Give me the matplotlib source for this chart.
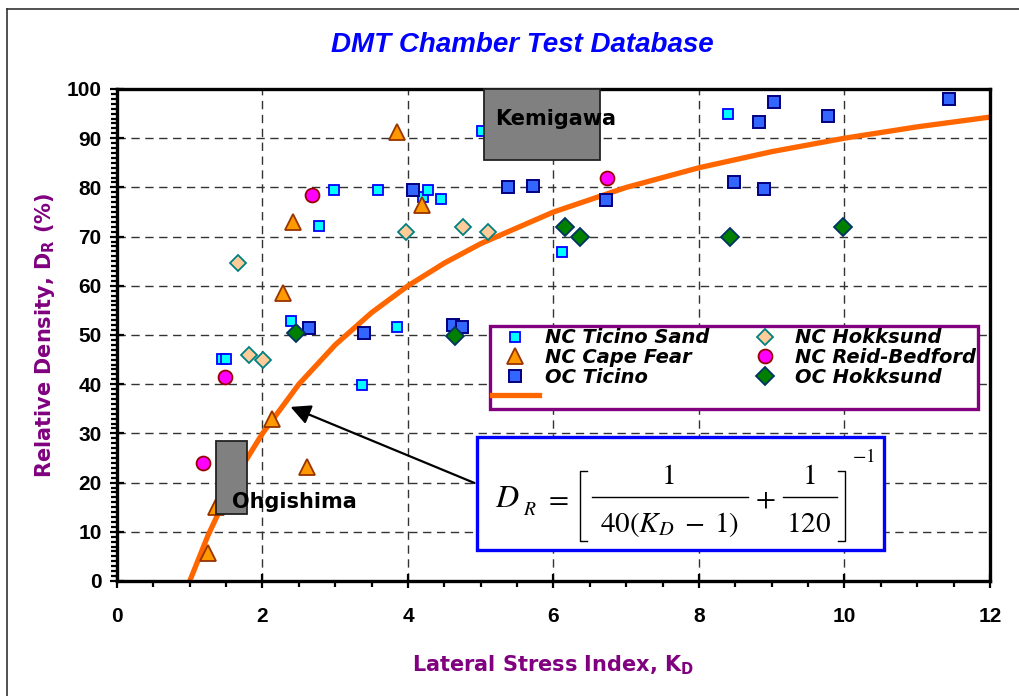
import matplotlib
matplotlib.use("Agg")
import matplotlib.pyplot as plt
from matplotlib.patches import Rectangle
from matplotlib.lines import Line2D
from matplotlib.ticker import MultipleLocator

# ----------------------------
# Data
# ----------------------------
ts_x = [1.45, 1.50, 2.39, 2.78, 2.98, 3.59, 3.37, 3.85, 4.20, 4.27, 4.45, 5.02, 6.12, 8.40]
ts_y = [45.1, 45.1, 52.8, 72.2, 79.5, 79.5, 39.8, 51.6, 78.0, 79.5, 77.6, 91.5, 66.9, 95.0]

oct_x = [2.64, 3.40, 4.07, 4.62, 4.74, 5.37, 5.72, 6.72, 8.48, 8.82, 8.89, 9.03, 9.77, 11.44]
oct_y = [51.4, 50.5, 79.5, 52.0, 51.6, 80.0, 80.3, 77.4, 81.1, 93.3, 79.7, 97.4, 94.5, 98.0]

cf_x = [1.25, 1.36, 2.13, 2.28, 2.42, 2.61, 3.85, 4.19]
cf_y = [5.7, 15.0, 32.9, 58.5, 73.0, 23.2, 91.3, 76.4]

hk_x = [1.66, 1.81, 2.01, 3.97, 4.76, 5.10]
hk_y = [64.6, 45.9, 44.9, 70.9, 72.0, 70.9]

rb_x = [1.18, 1.48, 2.68, 6.73]
rb_y = [24.0, 41.5, 78.5, 81.9]

ohk_x = [2.46, 4.65, 6.16, 6.36, 8.43, 9.98]
ohk_y = [50.4, 49.8, 72.0, 70.0, 70.0, 72.0]

# correlation curve D_R vs K_D
curve_kd = [1.0, 1.25, 1.5, 1.75, 2.0, 2.5, 3.0, 3.5, 4.0, 4.5, 5.0, 6.0, 7.0, 8.0, 9.0, 10.0, 11.0, 12.0]
curve_dr = [0.0, 9.23, 17.14, 24.0, 30.0, 40.0, 48.0, 54.55, 60.0, 64.62, 68.57, 75.0, 80.0, 84.0,
            87.27, 90.0, 92.31, 94.29]

x_ticks = [0, 2, 4, 6, 8, 10, 12]
y_ticks = [0, 10, 20, 30, 40, 50, 60, 70, 80, 90, 100]

PURPLE = "#800080"
W, H = 1020, 696

# ----------------------------
# Figure / axes
# ----------------------------
fig = plt.figure(figsize=(10.2, 6.96), dpi=100)
ax = fig.add_axes([117 / W, 1 - 581 / H, 873 / W, 492 / H])

ax.set_xlim(0, 12)
ax.set_ylim(0, 100)
ax.set_xticks(x_ticks)
ax.set_yticks(y_ticks)
ax.xaxis.set_minor_locator(MultipleLocator(0.5))
ax.yaxis.set_minor_locator(MultipleLocator(1))
ax.tick_params(which="major", direction="inout", length=10, width=1.6, pad=14,
               labelsize=15)
ax.tick_params(axis="y", which="major", pad=6)
ax.tick_params(which="minor", direction="out", length=4, width=1.6)
for lab in ax.get_xticklabels() + ax.get_yticklabels():
    lab.set_fontfamily("Liberation Sans")
    lab.set_fontweight("bold")
for sp in ax.spines.values():
    sp.set_linewidth(2.4)

ax.grid(True, which="major", color="#333333", linestyle=(0, (6, 4)), linewidth=1.0)
ax.set_axisbelow(True)

# ----------------------------
# Curve and points
# ----------------------------
line, = ax.plot(curve_kd, curve_dr, color="#FF6600", lw=3.8, zorder=2)

h_ts, = ax.plot(ts_x, ts_y, "s", ms=7, mfc="#00FFFF", mec="#0000FF", mew=1.3, ls="none", zorder=3)
h_oct, = ax.plot(oct_x, oct_y, "s", ms=9, mfc="#3366FF", mec="#000080", mew=1.4, ls="none", zorder=3)
h_cf, = ax.plot(cf_x, cf_y, "^", ms=12, mfc="#FF9900", mec="#993300", mew=1.3, ls="none", zorder=3)
h_hk, = ax.plot(hk_x, hk_y, "D", ms=8.5, mfc="#FFCC99", mec="#008080", mew=1.3, ls="none", zorder=3)
h_rb, = ax.plot(rb_x, rb_y, "o", ms=10, mfc="#FF00FF", mec="#990000", mew=1.3, ls="none", zorder=3)
h_ohk, = ax.plot(ohk_x, ohk_y, "D", ms=9, mfc="#008000", mec="#003366", mew=1.3, ls="none", zorder=3)

# ----------------------------
# Site boxes
# ----------------------------
ax.add_patch(Rectangle((5.04, 85.6), 1.60, 14.4, facecolor="#808080", edgecolor="#222222",
                       lw=1.3, zorder=4, clip_on=False))
ax.text(5.2, 94.0, "Kemigawa", fontsize=15, fontweight="bold", color="black",
        va="center", ha="left", zorder=5)

ax.add_patch(Rectangle((1.36, 13.6), 0.43, 14.9, facecolor="#808080", edgecolor="#222222",
                       lw=1.3, zorder=4))
ax.text(1.58, 16.0, "Ohgishima", fontsize=15, fontweight="bold", color="black",
        va="center", ha="left", zorder=5)

# ----------------------------
# Equation box + arrow
# ----------------------------
ax.add_patch(Rectangle((4.95, 6.3), 5.59, 23.0, facecolor="white", edgecolor="#0000FF",
                       lw=2.4, zorder=6))

ax.annotate("", xy=(2.35, 35.6), xytext=(4.95, 19.7),
            arrowprops=dict(arrowstyle="-|>", color="black", lw=1.6, mutation_scale=30),
            zorder=5)


# equation pieces, placed in image pixels (y measured from top)
def eq_text(px, py, s, size=21, ha="left"):
    fig.text(px / W, 1 - py / H, s, math_fontfamily="stix", fontsize=size,
             ha=ha, va="baseline", zorder=10)


def eq_line(xs, ys):
    fig.add_artist(Line2D([x / W for x in xs], [1 - y / H for y in ys],
                          color="black", lw=1.0, zorder=10))


eq_text(495, 507, r"$D$", size=23)
eq_text(523, 515, r"$R$", size=14)
eq_text(556, 506, r"$=$", ha="center")
eq_line([587, 580, 580, 587], [471, 471, 541, 541])
eq_text(668, 484, r"$1$", ha="center")
eq_line([592, 748], [497, 497])
eq_text(670, 532, r"$40(K_{D}\;-\;1)$", ha="center")
eq_text(765, 506, r"$+$", ha="center")
eq_text(809, 484, r"$1$", ha="center")
eq_line([783, 837], [497, 497])
eq_text(809, 532, r"$120$", ha="center")
eq_line([838, 845, 845, 838], [471, 471, 541, 541])
eq_text(852, 462, r"$-1$", size=14)

# ----------------------------
# Legend
# ----------------------------
handles = [h_ts, h_cf, h_oct, line, h_hk, h_rb, h_ohk]
labels = ["NC Ticino Sand", "NC Cape Fear", "OC Ticino", "",
          "NC Hokksund", "NC Reid-Bedford", "OC Hokksund"]
leg = ax.legend(handles, labels, ncol=2, loc="upper left", bbox_to_anchor=(0.427, 0.518),
                prop={"family": "DejaVu Sans", "weight": "bold", "style": "italic", "size": 14},
                frameon=True, fancybox=False, edgecolor=PURPLE, framealpha=1,
                handlelength=2.4, handletextpad=0.3, columnspacing=1.7,
                labelspacing=0.03, borderpad=0.12, borderaxespad=0)
leg.get_frame().set_linewidth(2.4)
leg.set_zorder(8)

# ----------------------------
# Titles / labels
# ----------------------------
fig.text(522 / W, 1 - 45 / H, "DMT Chamber Test Database", color="#0000FF",
         fontsize=20, fontweight="bold", fontstyle="italic", family="Liberation Sans",
         ha="center", va="center")
fig.text(553 / W, 1 - 665 / H, r"Lateral Stress Index, K$_\mathbf{D}$", color=PURPLE,
         fontsize=15, fontweight="bold", ha="center", va="center")
fig.text(45 / W, 1 - 335 / H, r"Relative Density, D$_\mathbf{R}$ (%)", color=PURPLE,
         fontsize=15, fontweight="bold", ha="center", va="center", rotation=90)

# outer frame (left and top edges visible)
fig.add_artist(Line2D([7 / W, 7 / W], [0, 1 - 9 / H], color="#333333", lw=1.2))
fig.add_artist(Line2D([7 / W, 1], [1 - 9 / H, 1 - 9 / H], color="#333333", lw=1.2))

plt.savefig("out.png", dpi=100)
